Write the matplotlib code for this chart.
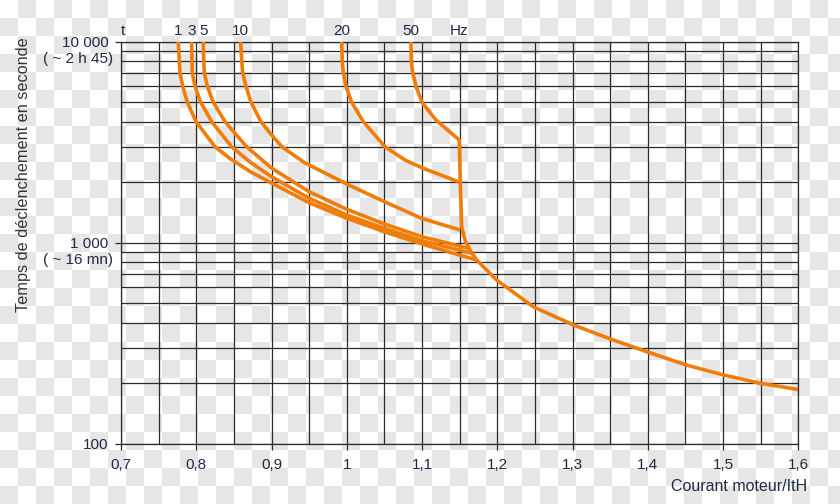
import numpy as np
import matplotlib
matplotlib.use('Agg')
import matplotlib.pyplot as plt
import matplotlib.transforms as mtransforms
from matplotlib.ticker import FixedLocator, NullFormatter, FixedFormatter

plt.rcParams['font.family'] = ['Liberation Sans', 'DejaVu Sans']

# ---------------- data ----------------
freq_labels = ['1', '3', '5', '10', '20', '50']

x_1hz = [0.7761, 0.7768, 0.7775, 0.7784, 0.7820, 0.7881, 0.7997, 0.8249, 0.8448, 0.8714, 0.9, 0.95, 1.0, 1.05, 1.1, 1.1726]
y_1hz = [10000, 9000, 8000, 7000, 6000, 5000, 4000, 3000, 2624, 2261, 1982, 1581, 1323, 1134, 985, 820]

x_3hz = [0.7939, 0.7941, 0.7943, 0.7947, 0.7983, 0.8059, 0.8205, 0.8471, 0.8714, 0.9, 0.95, 1.0, 1.05, 1.1, 1.166]
y_3hz = [10000, 9000, 8000, 7000, 6000, 5000, 4000, 3000, 2520, 2130, 1663, 1373, 1179, 1023, 886]

x_5hz = [0.8094, 0.8096, 0.81, 0.8107, 0.8147, 0.8226, 0.8382, 0.867, 0.9, 0.95, 1.0, 1.05, 1.1, 1.1615]
y_5hz = [10000, 9000, 8000, 7000, 6000, 5000, 4000, 3000, 2353, 1793, 1466, 1239, 1071, 938]

x_10hz = [0.859, 0.8597, 0.8605, 0.8617, 0.8661, 0.8727, 0.886, 0.9, 0.9139, 0.9445, 1.0, 1.05, 1.1, 1.1504]
y_10hz = [10000, 9000, 8000, 7000, 6000, 5000, 4000, 3434, 3000, 2492, 1959, 1600, 1320, 1157]

x_20hz = [0.9932, 0.9936, 0.994, 0.9954, 0.999, 1.0065, 1.022, 1.0508, 1.0774, 1.1017, 1.1482]
y_20hz = [10000, 9000, 8000, 7000, 6000, 5000, 4000, 3000, 2578, 2345, 2011]

x_50hz = [1.0853, 1.0855, 1.0857, 1.0876, 1.092, 1.1, 1.1185, 1.1495, 1.1508, 1.1527, 1.1571, 1.1637,
          1.1726, 1.1992, 1.2478, 1.301, 1.3541, 1.3985, 1.4517, 1.5003, 1.549, 1.6]
y_50hz = [10000, 9000, 8000, 7000, 6000, 5000, 4078, 3243, 2004, 1201, 1031, 920,
          820, 652, 480, 390, 328, 287, 246, 220, 200, 186]

x_ticks = [0.7, 0.8, 0.9, 1.0, 1.1, 1.2, 1.3, 1.4, 1.5, 1.6]
x_tick_labels = ['0,7', '0,8', '0,9', '1', '1,1', '1,2', '1,3', '1,4', '1,5', '1,6']
y_ticks = [100, 1000, 10000]
y_tick_labels = ['100', '1 000', '10 000']
y_tick_notes = ['', '( ~ 16 mn)', '( ~ 2 h 45)']

# ---------------- style ----------------
ORANGE = '#f07d0a'
GRID = '#2b2b2b'
TXT = '#1f2a44'

fig = plt.figure(figsize=(8.4, 5.04), dpi=100)
fig.patch.set_facecolor('white')

# transparency-checker background as in the reference picture
H, W = 504, 840
yy, xx = np.mgrid[0:H, 0:W]
chk = ((xx // 18 + yy // 18) % 2).astype(float)
bg = np.where(chk[..., None] == 1, 0.905, 1.0) * np.ones((H, W, 3))
fig.figimage(bg, xo=0, yo=0, origin='upper', zorder=-10)

ax = fig.add_axes([121 / 840, 1 - 443.7 / 504, (798.3 - 121) / 840, (443.7 - 41.7) / 504])
ax.set_zorder(5)
ax.patch.set_alpha(0)
ax.set_xlim(0.7, 1.6)
ax.set_yscale('log')
ax.set_ylim(100, 10000)

ax.xaxis.set_major_locator(FixedLocator(x_ticks))
ax.xaxis.set_major_formatter(FixedFormatter(x_tick_labels))
ax.xaxis.set_minor_locator(FixedLocator(np.arange(0.75, 1.6, 0.1)))
ax.xaxis.set_minor_formatter(NullFormatter())

ax.yaxis.set_major_locator(FixedLocator(y_ticks))
ax.yaxis.set_major_formatter(FixedFormatter(y_tick_labels))
ax.yaxis.set_minor_locator(FixedLocator([m * d for d in (100, 1000) for m in range(2, 10)]))
ax.yaxis.set_minor_formatter(NullFormatter())

ax.grid(which='both', color=GRID, lw=0.9)
ax.set_axisbelow(True)
for s in ax.spines.values():
    s.set_color(GRID)
    s.set_linewidth(0.9)

ax.tick_params(which='major', length=4, width=0.9, color=GRID, labelsize=11, labelcolor=TXT)
ax.tick_params(which='minor', length=0)
ax.tick_params(axis='x', which='major', pad=6)
ax.tick_params(axis='y', which='major', pad=5)

curves = [(x_1hz, y_1hz), (x_3hz, y_3hz), (x_5hz, y_5hz), (x_10hz, y_10hz), (x_20hz, y_20hz), (x_50hz, y_50hz)]
for xs, ys in curves:
    ax.plot(xs, ys, color=ORANGE, lw=2.6, solid_joinstyle='round', solid_capstyle='butt', zorder=3)

# notes under the y tick labels
for v, note in zip(y_ticks, y_tick_notes):
    if note:
        ax.annotate(note, xy=(0, v), xycoords=('axes fraction', 'data'),
                    xytext=(-6, -12.5), textcoords='offset points',
                    ha='right', va='center', fontsize=11, color=TXT)

# frequency labels along the top
trans = mtransforms.blended_transform_factory(ax.transData, fig.transFigure)
ax.text(0.7025, 0.938, 't', transform=trans, ha='center', va='center', fontsize=11, color=TXT)
for lab, (xs, ys) in zip(freq_labels, curves):
    ax.text(xs[0], 0.938, lab, transform=trans, ha='center', va='center', fontsize=11, color=TXT)
ax.text(x_50hz[7], 0.938, 'Hz', transform=trans, ha='center', va='center', fontsize=11, color=TXT)

fig.text(0.961, 0.034, 'Courant moteur/ItH', ha='right', va='center', fontsize=11.5, color=TXT)
fig.text(0.028, 0.653, 'Temps de déclenchement en seconde', rotation=90,
         ha='center', va='center', fontsize=11.7, color='#333333')

fig.savefig('out.png', dpi=100)
